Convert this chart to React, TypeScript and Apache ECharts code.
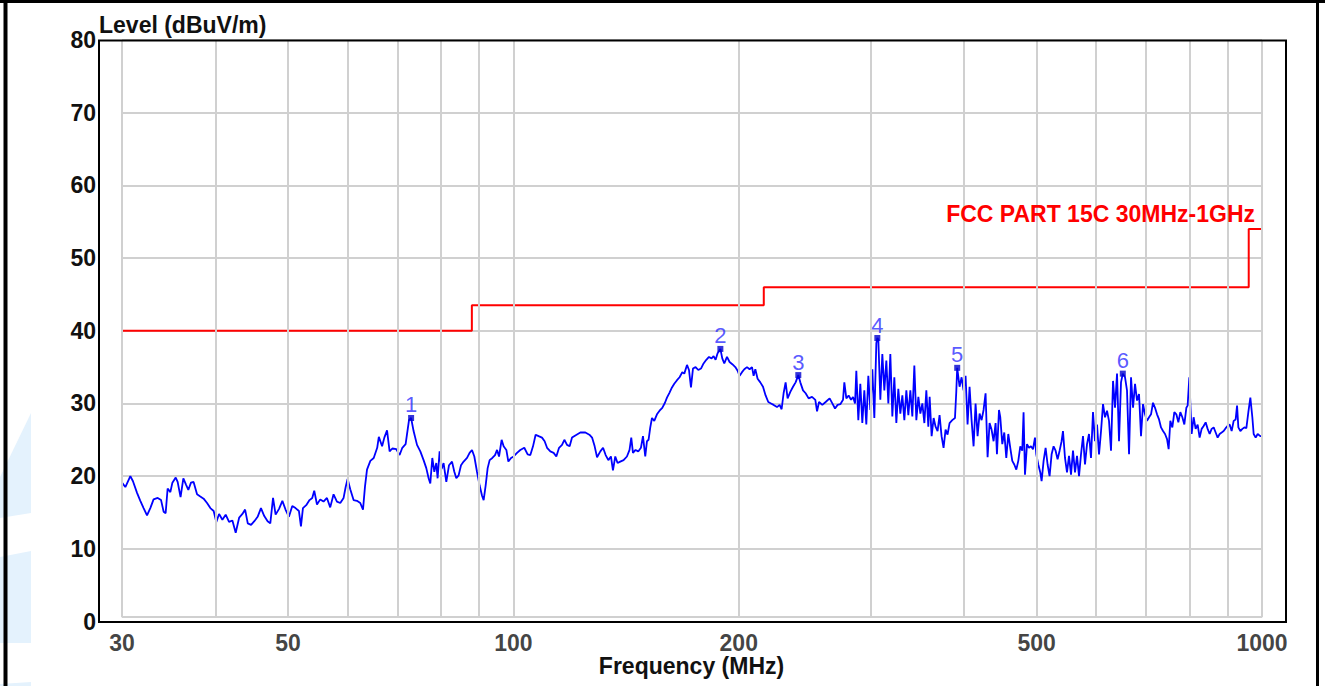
import React, { useEffect, useRef } from "react";
import * as echarts from "echarts";

const FONT = "'Liberation Sans', Arial, Helvetica, sans-serif";

// vertical grid lines (MHz) and x tick labels
const gridFreqs = [30, 40, 50, 60, 70, 80, 90, 100, 200, 300, 400, 500, 600, 700, 800, 900, 1000];
const tickLabelFreqs = [30, 50, 100, 200, 500, 1000];

// FCC Part 15C limit
const limitFreq = [30, 88, 88, 216, 216, 960, 960, 1000];
const limitLevel = [40, 40, 43.5, 43.5, 46, 46, 54, 54];

// measured trace
const traceFreq = [
  30.0, 30.31, 30.62, 30.78, 31.03, 31.42, 31.74, 32.06, 32.4, 32.73, 33.06, 33.48, 33.83, 34.1, 34.31, 34.52,
  34.81, 35.03, 35.39, 35.6, 35.92, 36.23, 36.54, 36.79, 37.09, 37.39, 37.79, 38.17, 38.56, 38.97, 39.37, 39.77,
  40.1, 40.44, 40.85, 41.27, 41.7, 42.13, 42.56, 43.02, 43.45, 43.81, 44.17, 44.62, 45.07, 45.53, 46.0, 46.47,
  46.95, 47.34, 47.74, 48.12, 48.63, 49.13, 49.61, 50.13, 50.65, 51.16, 51.7, 52.02, 52.34, 52.87, 53.41, 53.86,
  54.19, 54.65, 55.2, 55.76, 56.35, 56.92, 57.51, 58.11, 58.71, 59.31, 59.69, 60.05, 60.54, 61.16, 61.8, 62.43,
  62.96, 63.35, 63.74, 64.4, 65.07, 65.77, 66.1, 66.77, 67.23, 67.79, 68.33, 68.9, 69.75, 70.46, 71.05, 71.78,
  72.53, 73.0, 73.56, 74.34, 75.1, 75.86, 76.49, 77.04, 77.44, 77.92, 78.4, 78.88, 79.2, 79.69, 80.18, 80.67,
  81.35, 82.03, 82.79, 83.38, 83.89, 84.49, 85.11, 85.8, 86.7, 87.39, 88.04, 88.67, 89.4, 90.13, 90.8, 91.25,
  91.81, 92.38, 92.95, 93.72, 94.5, 95.09, 95.67, 96.44, 97.03, 97.85, 98.45, 99.27, 100.06, 101.11, 102.14, 103.4,
  104.47, 105.34, 106.21, 107.07, 108.06, 109.19, 110.08, 110.9, 112.03, 113.17, 114.11, 115.07, 116.13, 116.96, 117.93, 118.88,
  119.76, 120.98, 122.86, 124.77, 126.31, 127.37, 128.39, 129.34, 130.65, 131.75, 132.81, 133.91, 134.99, 135.82, 136.79, 137.76,
  138.9, 140.33, 141.79, 142.93, 143.69, 144.44, 145.6, 146.81, 148.03, 148.96, 150.01, 150.8, 151.54, 152.34, 153.14, 154.22,
  155.51, 156.76, 158.07, 159.38, 160.37, 161.65, 162.86, 164.01, 165.39, 166.71, 168.11, 169.15, 170.56, 171.61, 172.66, 173.73,
  175.12, 176.59, 178.06, 179.48, 180.99, 182.5, 183.96, 185.1, 186.24, 187.39, 188.55, 189.0, 190.11, 191.29, 192.89, 194.43,
  196.07, 197.88, 199.29, 200.52, 202.0, 203.44, 205.13, 206.78, 208.32, 209.35, 210.45, 211.93, 213.7, 215.48, 217.21, 219.01,
  220.84, 222.63, 224.97, 226.77, 228.18, 229.58, 231.01, 232.42, 234.37, 236.32, 238.21, 240.2, 241.69, 243.71, 245.67, 247.95,
  250.55, 253.1, 254.45, 256.02, 258.61, 261.26, 264.49, 266.7, 268.92, 271.08, 273.34, 275.62, 276.73, 278.44, 280.42, 282.5,
  284.24, 285.99, 287.13, 288.89, 290.68, 292.47, 294.28, 296.09, 297.93, 299.77, 301.62, 303.48, 305.36, 306.3, 307.24, 309.13,
  311.04, 312.96, 314.9, 316.84, 318.79, 320.76, 322.74, 324.74, 326.72, 328.75, 330.79, 332.83, 334.89, 336.95, 339.03, 341.12,
  343.22, 345.34, 347.49, 349.64, 351.79, 353.97, 356.12, 358.3, 359.76, 361.97, 364.22, 366.38, 368.64, 370.91, 373.21, 375.51,
  377.83, 380.14, 382.51, 385.69, 388.91, 390.48, 391.6, 394.46, 396.91, 399.32, 401.81, 404.28, 406.78, 409.29, 411.82, 414.36,
  416.92, 419.5, 422.09, 424.67, 427.3, 429.96, 432.59, 435.25, 437.96, 440.67, 442.53, 445.31, 447.08, 449.84, 452.61, 455.41,
  458.22, 461.03, 463.89, 466.74, 469.65, 472.55, 475.45, 478.35, 480.27, 482.37, 485.36, 488.35, 491.34, 494.41, 497.45, 499.45,
  502.53, 505.63, 507.66, 510.8, 513.96, 517.12, 520.28, 523.53, 526.74, 530.0, 533.25, 536.56, 539.86, 542.18, 545.55, 548.92,
  552.31, 555.72, 559.14, 562.61, 566.05, 569.59, 573.08, 576.62, 580.17, 583.77, 587.37, 590.96, 594.62, 598.27, 602.03, 605.73,
  609.47, 613.23, 617.01, 620.82, 624.63, 628.49, 632.4, 636.31, 640.23, 644.15, 648.13, 651.7, 656.2, 660.18, 664.33, 668.4,
  672.53, 676.68, 680.86, 685.05, 689.25, 693.51, 697.84, 702.1, 706.5, 710.83, 715.16, 719.62, 724.08, 728.54, 733.0, 737.57,
  742.12, 746.7, 750.38, 754.32, 758.97, 763.65, 768.36, 773.15, 777.86, 782.72, 787.5, 792.36, 795.52, 799.72, 802.22, 805.39,
  810.32, 815.38, 820.42, 825.47, 830.57, 835.69, 840.87, 846.0, 851.28, 856.49, 861.86, 867.15, 872.43, 877.88, 883.33, 888.7,
  894.23, 899.75, 905.3, 910.88, 916.51, 922.17, 926.15, 929.85, 935.6, 941.35, 947.19, 953.04, 958.88, 964.81, 970.74, 974.7,
  980.72, 986.74, 994.7, 1000
];
const traceLevel = [
  19.1, 18.5, 19.5, 20.0, 19.3, 17.7, 16.6, 15.6, 14.6, 15.6, 16.8, 17.0, 16.7, 15.1, 14.9, 18.3,
  17.8, 19.1, 19.8, 19.2, 17.1, 19.7, 18.8, 18.1, 19.1, 19.2, 17.5, 17.2, 16.9, 16.3, 15.6, 15.2,
  13.7, 14.8, 14.0, 14.7, 13.7, 13.9, 12.2, 14.3, 14.8, 15.4, 13.5, 13.3, 13.8, 14.4, 15.6, 14.5,
  13.8, 13.5, 17.0, 14.7, 15.5, 16.6, 15.4, 14.4, 15.9, 15.6, 15.2, 13.1, 15.6, 16.0, 16.7, 17.0,
  18.0, 16.1, 16.8, 16.5, 17.0, 15.7, 17.5, 16.5, 16.3, 17.0, 18.5, 19.6, 18.2, 16.7, 16.6, 16.3,
  15.4, 18.6, 20.9, 22.1, 22.5, 23.9, 25.4, 24.1, 25.3, 26.3, 23.4, 23.8, 23.7, 22.9, 23.9, 24.4,
  27.7, 28.0, 26.2, 24.3, 23.4, 22.2, 21.1, 19.7, 19.0, 22.5, 20.6, 21.8, 19.7, 23.4, 21.0, 21.8,
  19.2, 21.5, 22.0, 20.6, 19.7, 20.1, 21.5, 22.0, 22.5, 23.2, 23.6, 22.7, 20.6, 18.7, 17.3, 16.7,
  18.7, 21.1, 22.2, 22.5, 22.9, 23.6, 22.7, 25.0, 24.1, 23.6, 22.0, 22.5, 22.7, 23.2, 23.6, 23.9,
  23.0, 22.9, 24.1, 25.7, 25.5, 25.3, 24.8, 23.9, 23.4, 23.2, 22.7, 23.9, 24.3, 25.0, 24.3, 24.1,
  25.3, 25.6, 26.0, 26.0, 25.7, 25.3, 24.1, 22.6, 23.4, 23.9, 22.9, 22.2, 22.7, 20.8, 22.7, 21.8,
  22.0, 22.2, 22.7, 23.6, 25.3, 23.2, 23.6, 23.4, 23.9, 25.5, 22.7, 24.8, 25.0, 26.7, 28.0, 27.6,
  28.5, 29.0, 29.4, 30.1, 30.8, 31.5, 32.2, 32.7, 33.2, 33.6, 34.3, 34.1, 35.3, 34.6, 32.2, 34.8,
  35.0, 34.6, 34.8, 35.5, 36.0, 36.4, 36.2, 36.5, 36.0, 36.9, 37.3, 37.5, 36.2, 35.5, 36.4, 35.7,
  35.4, 35.0, 34.5, 33.8, 34.3, 34.7, 35.0, 34.7, 35.0, 33.8, 34.7, 33.4, 32.9, 32.3, 31.1, 30.2,
  30.0, 29.8, 29.5, 29.8, 29.2, 31.4, 32.9, 30.7, 31.6, 32.3, 32.9, 33.9, 32.9, 31.8, 31.4, 30.7,
  30.9, 30.5, 28.9, 30.2, 29.8, 30.2, 30.7, 30.0, 29.3, 29.8, 29.9, 30.5, 32.9, 30.7, 31.1, 30.5,
  30.9, 30.0, 34.5, 27.7, 32.7, 27.3, 31.8, 27.1, 33.8, 29.1, 34.7, 28.0, 38.3, 39.0, 38.8, 30.5,
  36.8, 31.8, 35.9, 30.0, 36.8, 28.2, 33.6, 27.3, 32.0, 28.6, 31.1, 27.7, 31.8, 28.4, 31.8, 28.2,
  35.2, 27.7, 30.9, 28.6, 30.0, 27.3, 31.8, 26.8, 30.9, 25.5, 28.0, 26.8, 26.2, 28.4, 25.5, 23.9,
  26.4, 25.7, 27.3, 27.7, 28.0, 31.6, 34.9, 32.3, 33.6, 31.8, 33.8, 27.1, 32.3, 27.7, 24.1, 30.0,
  25.5, 28.6, 27.7, 29.1, 31.4, 22.6, 27.3, 26.4, 24.8, 27.3, 23.0, 29.1, 28.1, 24.4, 26.0, 22.5,
  25.8, 23.9, 22.1, 21.6, 20.9, 22.1, 24.1, 23.5, 28.8, 20.2, 24.4, 23.9, 24.1, 23.7, 25.3, 23.0,
  21.6, 20.5, 19.3, 22.1, 23.9, 21.6, 20.0, 23.0, 24.1, 23.5, 22.3, 23.5, 24.8, 26.2, 22.5, 20.5,
  22.8, 20.2, 23.5, 20.5, 22.8, 20.0, 23.0, 25.5, 21.6, 24.4, 25.8, 22.5, 28.8, 24.8, 27.1, 23.0,
  26.2, 29.9, 28.1, 29.0, 27.6, 23.5, 33.1, 29.4, 34.1, 24.8, 32.9, 34.1, 33.6, 31.8, 23.0, 33.6,
  29.4, 32.7, 30.4, 31.3, 25.5, 29.9, 28.5, 27.6, 28.1, 28.5, 30.1, 29.4, 28.5, 27.8, 26.7, 26.2,
  25.8, 25.1, 23.7, 27.6, 26.7, 28.8, 28.5, 27.4, 28.8, 28.1, 27.1, 29.4, 29.7, 33.6, 29.9, 25.8,
  28.1, 26.5, 27.1, 25.3, 26.5, 26.9, 27.4, 26.5, 25.8, 26.5, 26.7, 26.0, 25.3, 25.8, 26.0, 26.2,
  26.6, 26.9, 27.1, 26.2, 27.6, 27.8, 29.7, 26.7, 26.2, 26.5, 26.7, 26.6, 28.8, 30.8, 28.1, 25.8,
  25.3, 25.8, 25.5, 25.5
];

// peak markers
const markerNames = ["1", "2", "3", "4", "5", "6"];
const markerFreq = [73.0, 189.0, 240.2, 306.3, 391.6, 651.7];
const markerLevel = [28.0, 37.5, 33.9, 39.0, 34.9, 34.1];

export default function App() {
  const ref = useRef<HTMLDivElement>(null);
  useEffect(() => {
    if (!ref.current) return;
    const chart = echarts.init(ref.current, null, { renderer: "svg" });
    const vLines: any[] = gridFreqs.map((f) => [{ coord: [f, 0.6] }, { coord: [f, 80] }]);
    vLines.push([{ coord: [30, 0.6] }, { coord: [1000, 0.6] }]);
    const option: any = {
      animation: false,
      backgroundColor: "#ffffff",
      grid: { left: 122, right: 63, top: 40, bottom: 64.5, containLabel: false },
      xAxis: {
        type: "log",
        logBase: 10,
        min: 30,
        max: 1000,
        axisLine: { show: false },
        axisTick: { show: false },
        axisLabel: { show: false },
        splitLine: { show: false },
      },
      yAxis: {
        type: "value",
        min: 0,
        max: 80,
        interval: 10,
        axisLine: { show: false },
        axisTick: { show: false },
        axisLabel: { margin: 26, fontFamily: FONT, fontWeight: "bold", fontSize: 23, lineHeight: 18, color: "#111111" },
        splitLine: { lineStyle: { color: "#d0d0d0", width: 2 } },
      },
      series: [
        {
          type: "line",
          name: "grid",
          data: [],
          silent: true,
          z: 1,
          markLine: {
            symbol: "none",
            silent: true,
            label: { show: false },
            lineStyle: { color: "#d0d0d0", width: 2, type: "solid" },
            data: vLines,
          },
        },
        {
          type: "line",
          name: "limit",
          data: limitFreq.map((f, i) => [f, limitLevel[i]]),
          symbol: "none",
          lineStyle: { color: "#ff0000", width: 2 },
          z: 2,
        },
        {
          type: "line",
          name: "trace",
          data: traceFreq.map((f, i) => [f, traceLevel[i]]),
          symbol: "none",
          showSymbol: false,
          lineStyle: { color: "#0000ff", width: 1.8 },
          z: 3,
        },
        {
          type: "scatter",
          name: "markers",
          data: markerFreq.map((f, i) => ({ name: markerNames[i], value: [f, markerLevel[i]] })),
          symbol: "rect",
          symbolSize: [6, 6],
          itemStyle: { color: "#0000d0" },
          label: {
            show: true,
            position: "top",
            distance: 1,
            formatter: "{b}",
            color: "#2e2eff",
            fontSize: 22,
            lineHeight: 18,
            fontFamily: FONT,
          },
          z: 4,
        },
        {
          type: "scatter",
          name: "ticks",
          data: tickLabelFreqs.map((f) => ({ name: String(f), value: [f, 0] })),
          symbolSize: 0,
          silent: true,
          clip: false,
          label: {
            show: true,
            position: "bottom",
            distance: 12,
            formatter: "{b}",
            color: "#111111",
            fontSize: 23,
            lineHeight: 18,
            fontWeight: "bold",
            fontFamily: FONT,
          },
          z: 4,
        },
      ],
      graphic: {
        elements: [
          { type: "polygon", shape: { points: [[31, 413], [31, 513], [0, 518], [0, 477]] }, style: { fill: "#e4f2fd" }, z: 0 },
          { type: "polygon", shape: { points: [[0, 557], [31, 551], [31, 643], [0, 643]] }, style: { fill: "#e4f2fd" }, z: 0 },
          { type: "polygon", shape: { points: [[0, 684], [31, 682], [31, 686], [0, 686]] }, style: { fill: "#e4f2fd" }, z: 0 },
          { type: "rect", shape: { x: 0, y: 0, width: 1325, height: 3 }, style: { fill: "#000000" }, z: 100 },
          { type: "rect", shape: { x: 3.5, y: 0, width: 4, height: 686 }, style: { fill: "#000000" }, z: 100 },
          { type: "rect", shape: { x: 1316, y: 0, width: 3, height: 686 }, style: { fill: "#000000" }, z: 100 },
          {
            type: "rect",
            shape: { x: 99, y: 40.5, width: 1187, height: 581.5 },
            style: { fill: "none", stroke: "#000000", lineWidth: 2 },
            z: 100,
          },
          {
            type: "text",
            x: 99,
            y: 25,
            style: { text: "Level (dBuV/m)", fontFamily: FONT, fontWeight: "bold", fontSize: 23, lineHeight: 20, fill: "#111111", align: "left", verticalAlign: "middle" },
            z: 100,
          },
          {
            type: "text",
            x: 691.5,
            y: 666,
            style: { text: "Frequency (MHz)", fontFamily: FONT, fontWeight: "bold", fontSize: 23, lineHeight: 18, fill: "#111111", align: "center", verticalAlign: "middle" },
            z: 100,
          },
          {
            type: "text",
            x: 1255,
            y: 214,
            style: { text: "FCC PART 15C 30MHz-1GHz", fontFamily: FONT, fontWeight: "bold", fontSize: 23, lineHeight: 20, fill: "#ff0000", align: "right", verticalAlign: "middle" },
            z: 100,
          },
        ],
      },
    };
    chart.setOption(option);
    return () => chart.dispose();
  }, []);
  return (
    <div
      ref={ref}
      style={{ position: "fixed", left: 0, top: 0, width: 1325, height: 686, background: "#ffffff" }}
    />
  );
}
